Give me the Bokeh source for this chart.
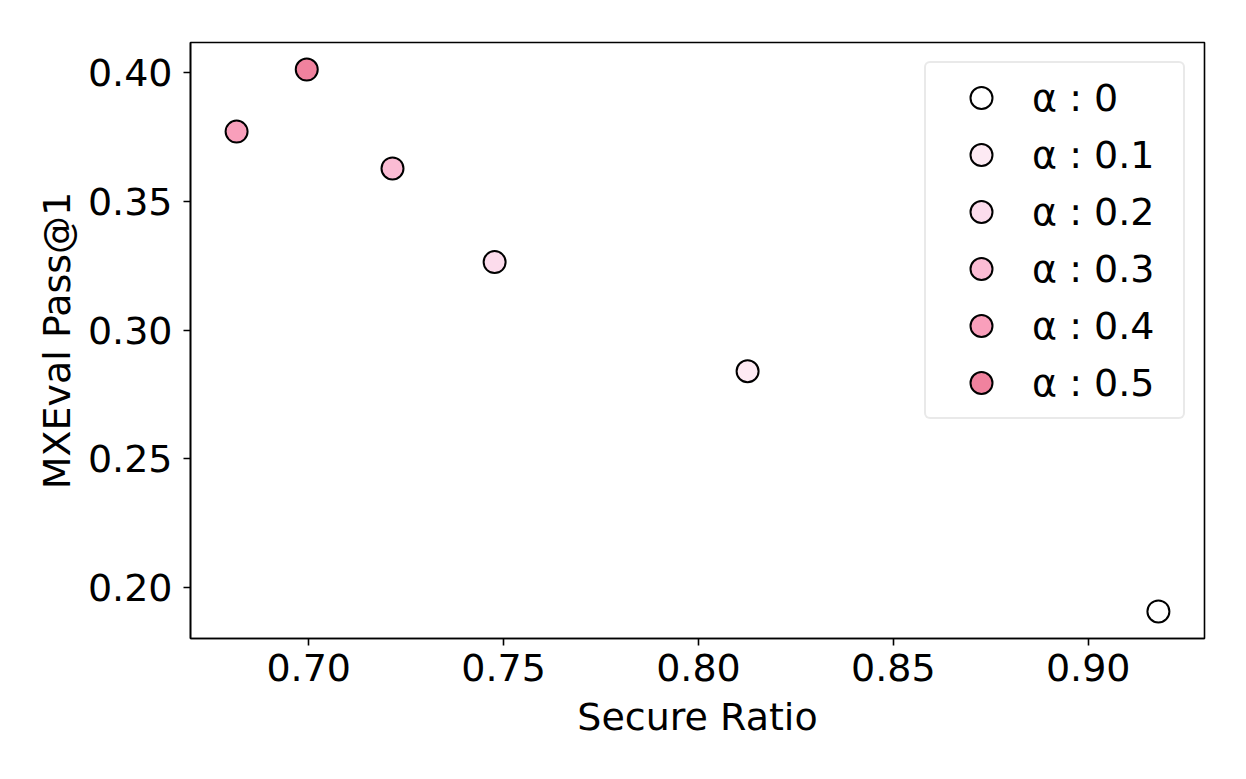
from bokeh.plotting import figure
from bokeh.models import Range1d, FixedTicker, PrintfTickFormatter, Legend
from bokeh.embed import file_html
from bokeh.resources import INLINE

# data
labels = ["α : 0", "α : 0.1", "α : 0.2", "α : 0.3", "α : 0.4", "α : 0.5"]
secure_ratio = [0.918, 0.8126, 0.7477, 0.7215, 0.6815, 0.6995]
pass_at_1 = [0.1907, 0.284, 0.3264, 0.3628, 0.3771, 0.4012]
colors = ["#ffffff", "#fdeaf3", "#fcdcec", "#fbbcd4", "#f99fbb", "#f0829e"]
x_ticks = [0.70, 0.75, 0.80, 0.85, 0.90]
y_ticks = [0.20, 0.25, 0.30, 0.35, 0.40]

FONT = "DejaVu Sans"
FS = "38px"

def padded(vals, frac=0.05):
    lo, hi = min(vals), max(vals)
    span = hi - lo
    return Range1d(lo - span * frac, hi + span * frac)

p = figure(
    frame_width=1014, frame_height=596,
    min_border_left=190, min_border_top=42, min_border_right=30, min_border_bottom=110,
    x_range=padded(secure_ratio), y_range=padded(pass_at_1),
    output_backend="svg", toolbar_location=None,
)

p.xgrid.visible = False
p.ygrid.visible = False
p.outline_line_color = "black"
p.outline_line_width = 1.6
p.outline_line_alpha = 1.0

items = []
for xv, yv, c, lab in zip(secure_ratio, pass_at_1, colors, labels):
    r = p.scatter([xv], [yv], size=22, fill_color=c, line_color="black", line_width=2)
    items.append((lab, [r]))

legend = Legend(items=items, location="top_right")
legend.label_text_font = FONT
legend.label_text_font_size = FS
legend.label_text_color = "black"
legend.label_height = 55
legend.glyph_height = 55
legend.glyph_width = 96
legend.label_width = 144
legend.label_standoff = 3
legend.spacing = 2
legend.padding = 7
legend.margin = 19
legend.border_line_color = "#d4d4d4"
legend.border_line_width = 2
legend.border_radius = 6
legend.background_fill_color = "white"
legend.background_fill_alpha = 0.85
p.add_layout(legend)

for ax in (p.xaxis[0], p.yaxis[0]):
    ax.major_label_text_font = FONT
    ax.major_label_text_font_size = FS
    ax.major_label_text_color = "black"
    ax.axis_label_text_font = FONT
    ax.axis_label_text_font_size = FS
    ax.axis_label_text_color = "black"
    ax.axis_label_text_font_style = "normal"
    ax.axis_line_color = "black"
    ax.axis_line_width = 1.6
    ax.major_tick_line_color = "black"
    ax.major_tick_line_width = 1.6
    ax.major_tick_out = 7
    ax.major_tick_in = 0
    ax.minor_tick_line_color = None
    ax.formatter = PrintfTickFormatter(format="%.2f")

p.xaxis.ticker = FixedTicker(ticks=x_ticks)
p.yaxis.ticker = FixedTicker(ticks=y_ticks)
p.xaxis.axis_label = "Secure Ratio"
p.yaxis.axis_label = "MXEval Pass@1"
p.xaxis.major_label_standoff = 8
p.yaxis.major_label_standoff = 11
p.xaxis.axis_label_standoff = 11
p.yaxis.axis_label_standoff = 6

open("out.html", "w").write(file_html(p, INLINE))
